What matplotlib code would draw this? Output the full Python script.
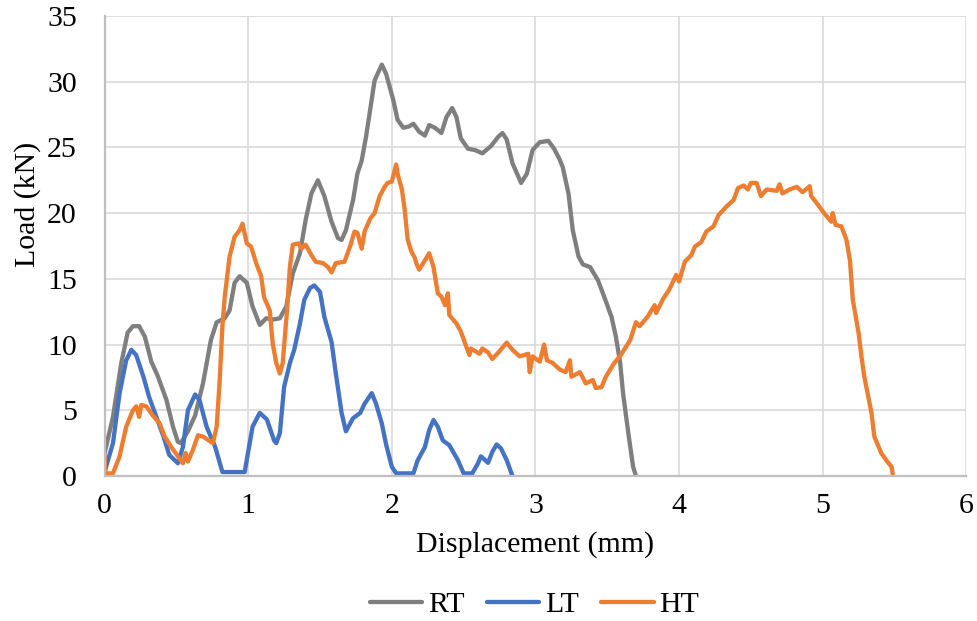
import matplotlib.pyplot as plt

plt.rcParams['font.family'] = ['Liberation Serif', 'DejaVu Serif']

# RT curve (gray)
rt_x = [0, 0.058, 0.116, 0.16, 0.197, 0.24, 0.28, 0.325, 0.37, 0.43, 0.476, 0.51, 0.53, 0.58,
        0.63, 0.685, 0.74, 0.78, 0.836, 0.87, 0.905, 0.94, 0.99, 1.03, 1.08, 1.125, 1.17, 1.22,
        1.265, 1.31, 1.36, 1.40, 1.44, 1.485, 1.53, 1.58, 1.625, 1.65, 1.68, 1.73, 1.76, 1.79,
        1.82, 1.88, 1.93, 1.96, 2.01, 2.04, 2.08, 2.12, 2.15, 2.19, 2.23, 2.26, 2.30, 2.345,
        2.38, 2.42, 2.45, 2.48, 2.53, 2.58, 2.63, 2.69, 2.74, 2.77, 2.80, 2.84, 2.90, 2.94,
        2.98, 3.03, 3.09, 3.13, 3.17, 3.19, 3.23, 3.26, 3.30, 3.33, 3.38, 3.435, 3.48, 3.53,
        3.56, 3.59, 3.61, 3.645, 3.68, 3.70]
rt_y = [1.75, 4.5, 8.6, 10.9, 11.4, 11.4, 10.6, 8.7, 7.6, 5.8, 3.75, 2.6, 2.5, 3.4,
        4.6, 7.05, 10.35, 11.7, 12.0, 12.6, 14.7, 15.2, 14.7, 12.9, 11.5, 12.0, 11.9, 12.0,
        12.9, 15.4, 16.95, 19.5, 21.5, 22.5, 21.3, 19.35, 18.1, 17.96, 18.7, 21.0, 23.0, 24.0,
        25.8, 30.1, 31.3, 30.6, 28.6, 27.1, 26.5, 26.6, 26.8, 26.2, 25.9, 26.7, 26.5, 26.1,
        27.3, 28.0, 27.3, 25.7, 24.9, 24.8, 24.55, 25.1, 25.8, 26.1, 25.6, 23.8, 22.3, 23.0,
        24.8, 25.4, 25.5, 24.9, 24.05, 23.5, 21.5, 18.7, 16.7, 16.1, 15.9, 14.9, 13.6, 12.1,
        10.6, 8.6, 6.3, 3.4, 0.7, 0.0]

# LT curve (blue)
lt_x = [0, 0.01, 0.058, 0.104, 0.15, 0.186, 0.22, 0.27, 0.31, 0.36, 0.41, 0.45, 0.51, 0.545,
        0.58, 0.63, 0.66, 0.71, 0.77, 0.82, 0.975, 1.03, 1.08, 1.13, 1.18, 1.195, 1.22, 1.25,
        1.29, 1.32, 1.36, 1.39, 1.43, 1.46, 1.50, 1.53, 1.58, 1.61, 1.65, 1.68, 1.73, 1.78,
        1.81, 1.86, 1.89, 1.93, 1.96, 2.00, 2.03, 2.15, 2.18, 2.23, 2.26, 2.29, 2.32, 2.355,
        2.40, 2.46, 2.50, 2.56, 2.60, 2.62, 2.67, 2.70, 2.73, 2.76, 2.80, 2.84]
lt_y = [0.3, 0.7, 2.5, 6.3, 8.8, 9.6, 9.2, 7.55, 6.0, 4.5, 3.0, 1.6, 0.97, 2.2,
        5.0, 6.2, 5.8, 3.75, 2.2, 0.3, 0.3, 3.75, 4.8, 4.3, 2.7, 2.5, 3.25, 6.8,
        8.6, 9.6, 11.6, 13.4, 14.3, 14.5, 14.0, 12.1, 10.2, 7.8, 4.8, 3.4, 4.4, 4.8,
        5.5, 6.3, 5.5, 4.0, 2.4, 0.7, 0.2, 0.2, 1.2, 2.2, 3.5, 4.26, 3.75, 2.7,
        2.35, 1.2, 0.2, 0.2, 0.97, 1.5, 1.0, 1.85, 2.4, 2.1, 1.2, 0.0]

# HT curve (orange)
ht_x = [0, 0.003, 0.058, 0.104, 0.15, 0.197, 0.22, 0.24, 0.255, 0.29, 0.336, 0.383, 0.418,
        0.464, 0.51, 0.545, 0.564, 0.58, 0.615, 0.65, 0.685, 0.754, 0.78, 0.80, 0.82, 0.836,
        0.87, 0.905, 0.94, 0.96, 0.99, 1.02, 1.055, 1.09, 1.11, 1.15, 1.17, 1.195, 1.22, 1.24,
        1.27, 1.29, 1.31, 1.35, 1.37, 1.40, 1.44, 1.47, 1.52, 1.555, 1.58, 1.61, 1.67, 1.71,
        1.74, 1.76, 1.79, 1.81, 1.85, 1.88, 1.915, 1.95, 1.97, 2.00, 2.03, 2.04, 2.07, 2.09,
        2.11, 2.135, 2.16, 2.17, 2.19, 2.23, 2.26, 2.29, 2.32, 2.345, 2.37, 2.39, 2.40, 2.45,
        2.48, 2.52, 2.54, 2.55, 2.61, 2.63, 2.67, 2.70, 2.75, 2.80, 2.84, 2.89, 2.95, 2.96,
        2.98, 3.03, 3.06, 3.08, 3.12, 3.17, 3.21, 3.24, 3.25, 3.31, 3.35, 3.40, 3.42, 3.46,
        3.49, 3.54, 3.60, 3.66, 3.70, 3.725, 3.78, 3.83, 3.84, 3.89, 3.93, 3.98, 4.00, 4.04,
        4.085, 4.11, 4.155, 4.19, 4.24, 4.275, 4.33, 4.38, 4.41, 4.45, 4.48, 4.50, 4.54, 4.57,
        4.61, 4.68, 4.70, 4.72, 4.77, 4.82, 4.86, 4.91, 4.92, 4.97, 5.01, 5.06, 5.07, 5.09,
        5.13, 5.165, 5.19, 5.21, 5.25, 5.27, 5.29, 5.34, 5.36, 5.41, 5.45, 5.48, 5.49]
ht_y = [1.6, 0.2, 0.2, 1.5, 3.75, 5.0, 5.3, 4.5, 5.4, 5.3, 4.6, 4.0, 3.0,
        2.2, 1.5, 0.97, 1.75, 1.1, 2.0, 3.1, 3.0, 2.5, 3.75, 7.05, 11.4, 13.6,
        16.7, 18.2, 18.7, 19.2, 17.7, 17.45, 16.2, 15.2, 13.6, 12.6, 10.1, 8.6, 7.8, 8.6,
        12.6, 15.9, 17.6, 17.7, 17.3, 17.6, 16.8, 16.3, 16.2, 15.9, 15.5, 16.2, 16.3, 17.5,
        18.6, 18.5, 17.3, 18.6, 19.6, 20.0, 21.3, 22.0, 22.3, 22.4, 23.7, 23.0, 21.8, 20.2,
        18.0, 17.1, 16.6, 16.2, 15.7, 16.4, 16.95, 15.9, 13.9, 13.65, 13.0, 13.9, 12.25, 11.6,
        11.0, 9.8, 9.2, 9.7, 9.3, 9.7, 9.4, 8.9, 9.5, 10.15, 9.6, 9.1, 9.3, 7.9,
        9.1, 8.7, 10.0, 8.8, 8.6, 8.1, 7.9, 8.8, 7.55, 7.9, 7.05, 7.3, 6.7, 6.75,
        7.55, 8.45, 9.3, 10.35, 11.7, 11.4, 12.1, 13.0, 12.4, 13.5, 14.15, 15.3, 14.8, 16.3,
        16.8, 17.45, 17.8, 18.6, 19.0, 19.85, 20.5, 21.0, 21.9, 22.1, 21.8, 22.3, 22.3, 21.3,
        21.8, 21.7, 22.2, 21.5, 21.8, 22.0, 21.6, 22.05, 21.3, 20.6, 20.0, 19.35, 20.0, 19.1,
        19.0, 18.0, 16.4, 13.4, 10.9, 9.1, 7.55, 4.8, 3.0, 1.7, 1.1, 0.7, 0.0]

fig = plt.figure(figsize=(9.78, 6.21), dpi=100)
ax = fig.add_axes([0.107, 0.2335, 0.881, 0.7407])

lw = 3.1
ax.plot(rt_x, rt_y, color='#7F7F7F', lw=lw, label='RT', solid_joinstyle='round', solid_capstyle='round')
ax.plot(lt_x, lt_y, color='#4472C4', lw=lw, label='LT', solid_joinstyle='round', solid_capstyle='round')
ax.plot(ht_x, ht_y, color='#ED7D31', lw=lw, label='HT', solid_joinstyle='round', solid_capstyle='round')

ax.set_xlim(0, 6)
ax.set_ylim(0, 35)
ax.set_xticks(range(0, 7))
ax.set_yticks(range(0, 36, 5))
ax.grid(True, color='#D9D9D9', lw=1.2)
ax.set_axisbelow(True)
for side in ['top', 'right']:
    ax.spines[side].set_visible(False)
for side in ['left', 'bottom']:
    ax.spines[side].set_color('#BFBFBF')
    ax.spines[side].set_linewidth(1.6)
ax.tick_params(length=0, labelsize=21.5, colors='black')
ax.tick_params(axis='y', pad=20)
ax.tick_params(axis='x', pad=12)

ax.set_xlabel('Displacement (mm)', fontsize=21.5)
ax.xaxis.set_label_coords(0.499, -0.15)
ax.xaxis.label.set_verticalalignment('center')
ax.set_ylabel('Load (kN)', fontsize=21.5)
ax.yaxis.set_label_coords(-0.09, 0.59)
ax.yaxis.label.set_verticalalignment('center')

leg = ax.legend(loc='center', bbox_to_anchor=(0.499, -0.28), ncol=3, frameon=False,
                fontsize=21.5, handlelength=1.75, columnspacing=0.75, handletextpad=0.2)
for line in leg.get_lines():
    line.set_solid_capstyle('round')

fig.savefig('out.png', dpi=100)
